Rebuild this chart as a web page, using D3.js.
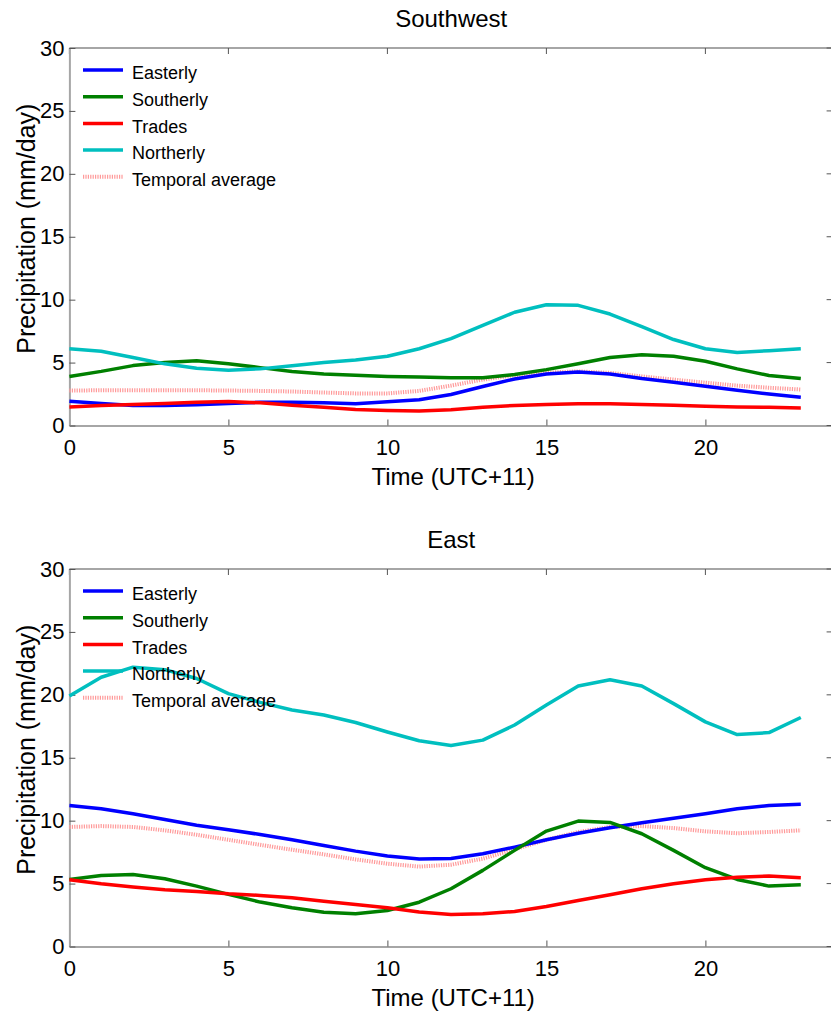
<!DOCTYPE html>
<html>
<head>
<meta charset="utf-8">
<script src="https://cdn.jsdelivr.net/npm/d3@7"></script>
<style>
  body { margin: 0; background: #fff; }
  text { font-family: "Liberation Sans", Arial, sans-serif; fill: #000; }
</style>
</head>
<body>
<svg id="chart" width="831" height="1014"></svg>
<script>
// ---- Data ----
const hours = d3.range(0, 24);
const seriesNames = ["Easterly", "Southerly", "Trades", "Northerly", "Temporal average"];
const xTicks = [0, 5, 10, 15, 20];
const yTicks = [0, 5, 10, 15, 20, 25, 30];

// Southwest panel
const swEasterly  = [1.93,1.74,1.59,1.59,1.64,1.74,1.85,1.85,1.80,1.72,1.88,2.05,2.46,3.10,3.70,4.10,4.26,4.10,3.73,3.44,3.12,2.80,2.50,2.25];
const swSoutherly = [3.90,4.30,4.76,5.00,5.15,4.90,4.60,4.30,4.10,4.00,3.90,3.85,3.80,3.80,4.05,4.44,4.90,5.40,5.63,5.50,5.10,4.50,3.97,3.73];
const swTrades    = [1.48,1.59,1.67,1.75,1.85,1.90,1.80,1.61,1.45,1.27,1.19,1.15,1.25,1.45,1.59,1.67,1.72,1.72,1.67,1.61,1.53,1.48,1.45,1.40];
const swNortherly = [6.10,5.90,5.40,4.90,4.55,4.40,4.50,4.75,5.00,5.20,5.50,6.10,6.90,7.95,9.00,9.60,9.55,8.86,7.85,6.83,6.10,5.80,5.95,6.10];
const swAverage   = [2.78,2.80,2.80,2.80,2.80,2.78,2.75,2.70,2.62,2.55,2.55,2.75,3.17,3.65,4.00,4.20,4.30,4.18,3.90,3.65,3.40,3.17,3.00,2.86];

// East panel
const eEasterly  = [11.20,10.95,10.55,10.10,9.63,9.28,8.90,8.48,8.03,7.58,7.19,6.95,7.00,7.37,7.90,8.48,9.00,9.44,9.84,10.20,10.55,10.95,11.20,11.30];
const eSoutherly = [5.33,5.65,5.73,5.38,4.80,4.14,3.53,3.08,2.73,2.60,2.86,3.52,4.59,6.05,7.64,9.17,9.97,9.86,8.96,7.64,6.26,5.33,4.80,4.90];
const eTrades    = [5.30,4.98,4.72,4.51,4.38,4.19,4.06,3.87,3.60,3.34,3.08,2.75,2.55,2.60,2.78,3.18,3.66,4.11,4.59,4.98,5.30,5.51,5.60,5.47];
const eNortherly = [19.90,21.40,22.20,22.00,21.30,20.10,19.40,18.80,18.40,17.80,17.05,16.35,15.97,16.40,17.60,19.20,20.70,21.20,20.70,19.30,17.85,16.84,17.00,18.20];
const eAverage   = [9.50,9.57,9.50,9.23,8.88,8.48,8.08,7.69,7.32,6.92,6.58,6.35,6.50,6.98,7.72,8.48,9.10,9.50,9.57,9.41,9.15,9.00,9.10,9.23];

const panels = [
  { title: "Southwest", series: [swEasterly, swSoutherly, swTrades, swNortherly, swAverage] },
  { title: "East",      series: [eEasterly, eSoutherly, eTrades, eNortherly, eAverage] }
];

// ---- Styles ----
const colors = ["#0000ff", "#008000", "#ff0000", "#00bfbf", "#ff9a9a"];
const dashes = [null, null, null, null, "1.2,1.2"];

const svg = d3.select("#chart");
const xLeft = 69.4, xRight = 832.6;
const panelTops = [48, 569];
const panelH = 377.5;

panels.forEach((p, pi) => {
  const top = panelTops[pi], bottom = top + panelH;
  const x = d3.scaleLinear().domain([0, 24]).range([xLeft, xRight]);
  const y = d3.scaleLinear().domain([0, 30]).range([bottom, top]);
  const g = svg.append("g");

  // title
  g.append("text").attr("x", (xLeft + 829) / 2 + 2).attr("y", top - 21)
    .attr("text-anchor", "middle").attr("font-size", 24).text(p.title);

  // box
  const boxColor = "#a6a6a6";
  g.append("line").attr("x1", xLeft).attr("x2", xRight).attr("y1", top).attr("y2", top)
    .attr("stroke", boxColor).attr("stroke-width", 2);
  g.append("line").attr("x1", xRight).attr("x2", xRight).attr("y1", top).attr("y2", bottom)
    .attr("stroke", boxColor).attr("stroke-width", 2);

  // bottom axis
  const xAxis = d3.axisBottom(x).tickValues(xTicks).tickSizeInner(-6).tickSizeOuter(0).tickPadding(14);
  const gx = g.append("g").attr("transform", `translate(0,${bottom})`).call(xAxis);
  gx.select(".domain").attr("stroke", boxColor).attr("stroke-width", 2);
  gx.selectAll(".tick line").attr("stroke", "#555");
  gx.selectAll(".tick text").attr("font-size", 22).attr("font-family", "Liberation Sans, Arial, sans-serif").attr("fill", "#000");

  // top ticks
  g.selectAll(".ttick").data(xTicks).enter().append("line")
    .attr("x1", d => x(d)).attr("x2", d => x(d)).attr("y1", top).attr("y2", top + 6)
    .attr("stroke", "#555");

  // left axis
  const yAxis = d3.axisLeft(y).tickValues(yTicks).tickSizeInner(-6).tickSizeOuter(0).tickPadding(5);
  const gy = g.append("g").attr("transform", `translate(${xLeft},0)`).call(yAxis);
  gy.select(".domain").attr("stroke", boxColor).attr("stroke-width", 2);
  gy.selectAll(".tick line").attr("stroke", "#555");
  gy.selectAll(".tick text").attr("font-size", 22).attr("font-family", "Liberation Sans, Arial, sans-serif").attr("fill", "#000");

  // right ticks
  g.selectAll(".rtick").data(yTicks).enter().append("line")
    .attr("x1", xRight - 6).attr("x2", xRight).attr("y1", d => y(d)).attr("y2", d => y(d))
    .attr("stroke", "#555");

  // axis labels
  g.append("text").attr("x", (xLeft + 829) / 2 + 4).attr("y", bottom + 59)
    .attr("text-anchor", "middle").attr("font-size", 24).text("Time (UTC+11)");
  g.append("text").attr("transform", `translate(35,${(top + bottom) / 2 - 8}) rotate(-90)`)
    .attr("text-anchor", "middle").attr("font-size", 25).text("Precipitation (mm/day)");

  // lines
  const line = d3.line().x((d, i) => x(hours[i])).y(d => y(d));
  const order = [4, 0, 1, 2, 3];
  order.forEach(si => {
    g.append("path").datum(p.series[si])
      .attr("d", line).attr("fill", "none")
      .attr("stroke", colors[si]).attr("stroke-width", si === 4 ? 4 : 3.5)
      .attr("stroke-dasharray", dashes[si])
      .attr("stroke-linejoin", "round");
  });

  // legend
  const lg = g.append("g");
  seriesNames.forEach((name, i) => {
    const ly = top + 22 + i * 26.7;
    lg.append("line").attr("x1", 83).attr("x2", 123).attr("y1", ly).attr("y2", ly)
      .attr("stroke", colors[i]).attr("stroke-width", i === 4 ? 4 : 3.5)
      .attr("stroke-dasharray", dashes[i]);
    lg.append("text").attr("x", 132).attr("y", ly + 3).attr("dy", "0.35em")
      .attr("font-size", 18).text(name);
  });
});
</script>
</body>
</html>
